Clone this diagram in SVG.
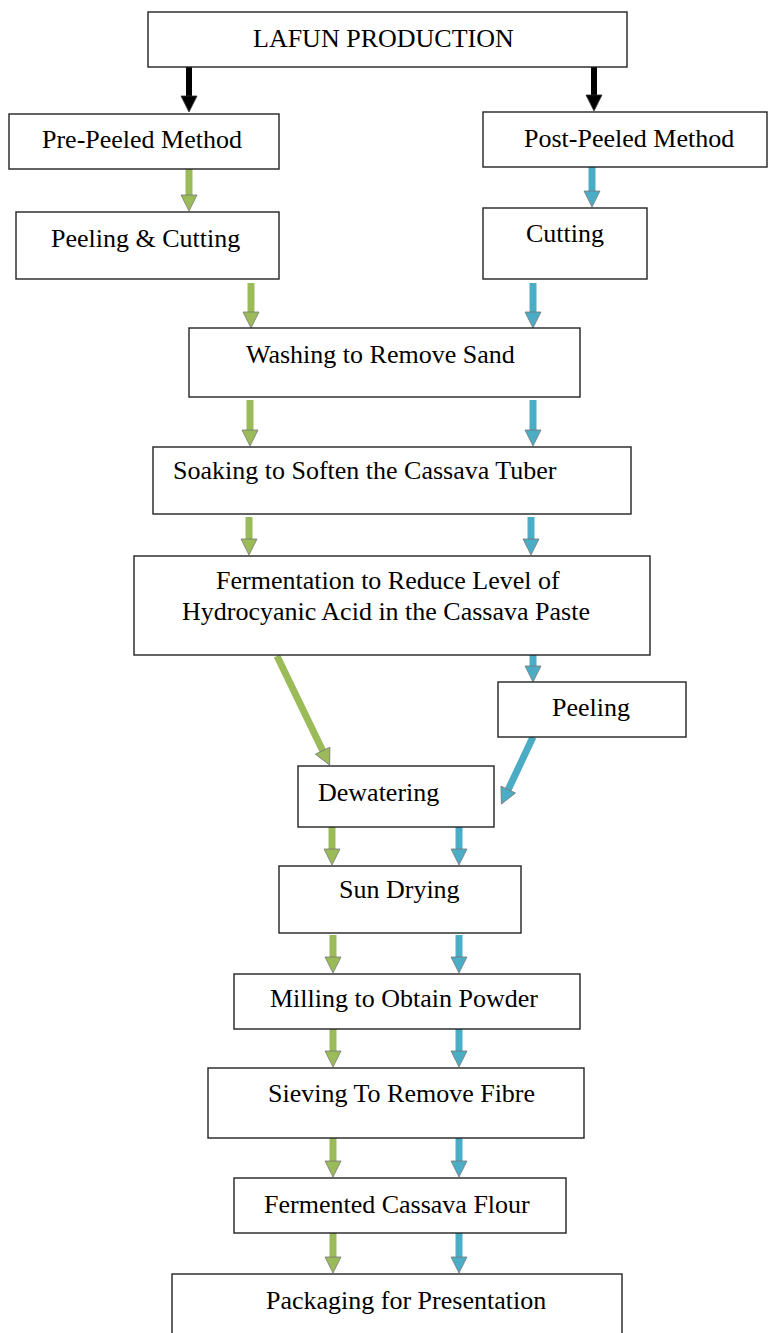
<svg xmlns="http://www.w3.org/2000/svg" width="768" height="1333" viewBox="0 0 768 1333">
<style>
.box{fill:#fff;stroke:#222;stroke-width:1.4}
.t{font-family:"Liberation Serif","Times New Roman",serif;font-size:26px;fill:#000}
.k{stroke:#000;stroke-width:6;fill:none}
.g{stroke:#9BBB59;stroke-width:7;fill:none}
.b{stroke:#4BACC6;stroke-width:7;fill:none}
</style>
<defs>
<marker id="hk" markerUnits="userSpaceOnUse" markerWidth="18" markerHeight="18" refX="1" refY="8" orient="auto" overflow="visible">
<path d="M0,0 L16,8 L0,16 z" fill="#000" stroke="#333" stroke-width="0.8"/>
</marker>
<marker id="hg" markerUnits="userSpaceOnUse" markerWidth="18" markerHeight="18" refX="1" refY="8" orient="auto" overflow="visible">
<path d="M0,0 L16,8 L0,16 z" fill="#9BBB59" stroke="#777" stroke-width="0.8"/>
</marker>
<marker id="hb" markerUnits="userSpaceOnUse" markerWidth="18" markerHeight="18" refX="1" refY="8" orient="auto" overflow="visible">
<path d="M0,0 L16,8 L0,16 z" fill="#4BACC6" stroke="#777" stroke-width="0.8"/>
</marker>
</defs>

<g id="connectors">
<line class="k" x1="189" y1="67" x2="189" y2="97" marker-end="url(#hk)"/>
<line class="k" x1="594" y1="67" x2="594" y2="96" marker-end="url(#hk)"/>

<line class="g" x1="189" y1="169" x2="189" y2="196" marker-end="url(#hg)"/>
<line class="g" x1="251" y1="283" x2="251" y2="313" marker-end="url(#hg)"/>
<line class="g" x1="250" y1="400" x2="250" y2="431" marker-end="url(#hg)"/>
<line class="g" x1="249" y1="517" x2="249" y2="540" marker-end="url(#hg)"/>
<line class="g" x1="277" y1="656" x2="323.1" y2="751.6" marker-end="url(#hg)"/>
<line class="g" x1="332" y1="827" x2="332" y2="850" marker-end="url(#hg)"/>
<line class="g" x1="333" y1="935" x2="333" y2="958" marker-end="url(#hg)"/>
<line class="g" x1="333" y1="1029" x2="333" y2="1052" marker-end="url(#hg)"/>
<line class="g" x1="333" y1="1138" x2="333" y2="1162" marker-end="url(#hg)"/>
<line class="g" x1="333" y1="1233" x2="333" y2="1258" marker-end="url(#hg)"/>

<line class="b" x1="592" y1="167" x2="592" y2="192" marker-end="url(#hb)"/>
<line class="b" x1="533" y1="283" x2="533" y2="313" marker-end="url(#hb)"/>
<line class="b" x1="533" y1="400" x2="533" y2="431" marker-end="url(#hb)"/>
<line class="b" x1="531" y1="517" x2="531" y2="540" marker-end="url(#hb)"/>
<line class="b" x1="533" y1="655" x2="533" y2="667" marker-end="url(#hb)"/>
<line class="b" x1="533" y1="737" x2="507.8" y2="790.5" marker-end="url(#hb)"/>
<line class="b" x1="459" y1="827" x2="459" y2="850" marker-end="url(#hb)"/>
<line class="b" x1="459" y1="935" x2="459" y2="958" marker-end="url(#hb)"/>
<line class="b" x1="459" y1="1029" x2="459" y2="1052" marker-end="url(#hb)"/>
<line class="b" x1="459" y1="1138" x2="459" y2="1162" marker-end="url(#hb)"/>
<line class="b" x1="459" y1="1233" x2="459" y2="1258" marker-end="url(#hb)"/>
</g>

<g id="n-lafun"><rect class="box" x="148" y="12" width="479" height="55"/><text class="t" x="253" y="47">LAFUN PRODUCTION</text></g>
<g id="n-pre"><rect class="box" x="9" y="114" width="270" height="55"/><text class="t" x="42" y="148">Pre-Peeled Method</text></g>
<g id="n-post"><rect class="box" x="483" y="112" width="284" height="55"/><text class="t" x="524" y="147">Post-Peeled Method</text></g>
<g id="n-peelcut"><rect class="box" x="16" y="212" width="263" height="67"/><text class="t" x="51" y="247">Peeling &amp; Cutting</text></g>
<g id="n-cutting"><rect class="box" x="483" y="208" width="164" height="71"/><text class="t" x="526" y="242">Cutting</text></g>
<g id="n-washing"><rect class="box" x="189" y="328" width="391" height="69"/><text class="t" x="246" y="363">Washing to Remove Sand</text></g>
<g id="n-soaking"><rect class="box" x="153" y="447" width="478" height="67"/><text class="t" x="173" y="479">Soaking to Soften the Cassava Tuber</text></g>
<g id="n-ferm"><rect class="box" x="134" y="556" width="516" height="99"/><text class="t" x="216" y="589">Fermentation to Reduce Level of</text><text class="t" x="182" y="620">Hydrocyanic Acid in the Cassava Paste</text></g>
<g id="n-peeling"><rect class="box" x="498" y="682" width="188" height="55"/><text class="t" x="552" y="716">Peeling</text></g>
<g id="n-dewater"><rect class="box" x="298" y="766" width="196" height="61"/><text class="t" x="318" y="801">Dewatering</text></g>
<g id="n-sun"><rect class="box" x="279" y="866" width="242" height="67"/><text class="t" x="339" y="898">Sun Drying</text></g>
<g id="n-mill"><rect class="box" x="234" y="974" width="346" height="55"/><text class="t" x="270" y="1007">Milling to Obtain Powder</text></g>
<g id="n-sieve"><rect class="box" x="208" y="1068" width="376" height="70"/><text class="t" x="268" y="1102">Sieving To Remove Fibre</text></g>
<g id="n-flour"><rect class="box" x="234" y="1178" width="332" height="55"/><text class="t" x="264" y="1213">Fermented Cassava Flour</text></g>
<g id="n-pack"><rect class="box" x="172" y="1274" width="450" height="70"/><text class="t" x="266" y="1309">Packaging for Presentation</text></g>
</svg>
